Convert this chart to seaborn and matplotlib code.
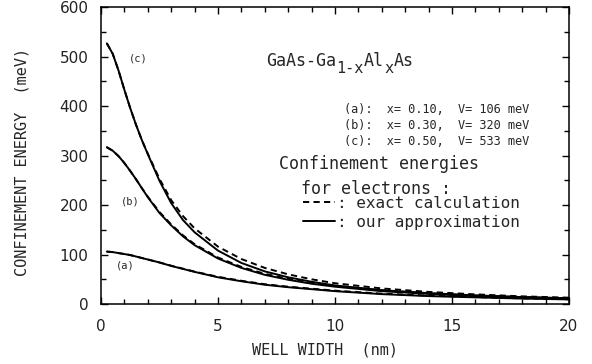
import numpy as np
import pandas as pd
import matplotlib
matplotlib.use("Agg")
import matplotlib.pyplot as plt
from matplotlib.lines import Line2D
from matplotlib.legend import Legend
from matplotlib.ticker import MultipleLocator
import seaborn as sns

# Well widths (nm) at which the confinement energies are tabulated
width_nm = [0.25, 0.5, 0.75, 1.0, 1.25, 1.5, 1.75, 2.0, 2.5, 3.0, 3.5, 4.0,
            5.0, 6.0, 7.0, 8.0, 9.0, 10.0, 12.0, 14.0, 16.0, 18.0, 20.0]

# Ground-state electron confinement energies (meV)
# (a) x = 0.10, V = 106 meV
a_approx = [106, 105, 103, 101, 99, 96, 93, 90, 84, 77, 71, 65,
            54, 46, 39, 34, 30, 26, 20, 16, 13.5, 11, 9.3]
a_exact = [106, 105, 103, 101, 99, 96, 93, 90, 84, 77.5, 71.5, 65.5,
           55, 47, 40, 35, 31, 27, 21, 17, 14, 11.5, 9.6]
# (b) x = 0.30, V = 320 meV
b_approx = [317, 310, 299, 285, 269, 252, 234, 216, 184, 159, 137, 119,
            92, 73, 59, 49, 41, 35, 26, 20.5, 16.3, 13.2, 10.9]
b_exact = [317, 310, 299, 285, 269, 252, 234, 217, 186, 161, 139, 121,
           94, 75, 61, 51, 43, 36.5, 27.5, 21.5, 17, 14, 11.5]
# (c) x = 0.50, V = 533 meV
c_approx = [527, 506, 472, 433, 396, 362, 331, 303, 249, 204, 170, 145,
            108, 83, 66, 54, 45, 37.5, 28, 22, 17.5, 14, 11.5]
c_exact = [527, 506, 472, 433, 396, 362, 331, 304, 253, 210, 178, 153,
           116, 91, 73, 60, 50, 42, 31.5, 24.5, 19.5, 15.5, 12.8]

curve_labels = ["(a)", "(b)", "(c)"]
label_pos = [(1.05, 77), (1.26, 207), (1.6, 497)]
param_lines = ["(a):  x= 0.10,  V= 106 meV",
               "(b):  x= 0.30,  V= 320 meV",
               "(c):  x= 0.50,  V= 533 meV"]
param_y = [394, 360, 328]
# system name, split into normal and lowered (subscript) pieces
title_parts = [("GaAs-Ga", False), ("1-x", True), ("Al", False),
               ("x", True), ("As", False)]

frames = []
for name, approx, exact in zip(curve_labels,
                               [a_approx, b_approx, c_approx],
                               [a_exact, b_exact, c_exact]):
    frames.append(pd.DataFrame({"width": width_nm, "energy": exact,
                                "curve": name, "method": "exact"}))
    frames.append(pd.DataFrame({"width": width_nm, "energy": approx,
                                "curve": name, "method": "approx"}))
df = pd.concat(frames, ignore_index=True)

sns.set_theme(style="ticks")
mono = ["DejaVu Sans Mono", "DejaVu Sans"]
plt.rcParams["font.family"] = mono
plt.rcParams["axes.linewidth"] = 1.1

fig = plt.figure(figsize=(5.92, 3.64), dpi=100)
ax = fig.add_axes([0.1706, 0.1648, 0.7905, 0.8152])

dash = (3.2, 2.2)
sns.lineplot(data=df, x="width", y="energy", units="curve",
             estimator=None, style="method",
             dashes={"exact": dash, "approx": ""},
             color="black", linewidth=1.4, legend=False, ax=ax, sort=True)

ax.set_xlim(0, 20)
ax.set_ylim(0, 600)
ax.xaxis.set_major_locator(MultipleLocator(5))
ax.xaxis.set_minor_locator(MultipleLocator(1))
ax.yaxis.set_major_locator(MultipleLocator(100))
ax.yaxis.set_minor_locator(MultipleLocator(50))
ax.tick_params(which="both", direction="in", top=True, right=True,
               color="black", width=1.0, labelsize=11, labelcolor="#222222")
ax.tick_params(which="major", length=5)
ax.tick_params(axis="x", which="major", pad=11)
ax.tick_params(axis="y", which="major", pad=9)
ax.tick_params(which="minor", length=3.5)
for lbl in ax.get_xticklabels() + ax.get_yticklabels():
    lbl.set_family("DejaVu Sans")
for s in ax.spines.values():
    s.set_color("black")

ax.set_xlabel("WELL WIDTH  (nm)", fontsize=11)
ax.set_ylabel("CONFINEMENT ENERGY  (meV)", fontsize=11)
ax.xaxis.set_label_coords(0.479, -0.130)
ax.yaxis.set_label_coords(-0.152, 0.479)

for lab, (lx, ly) in zip(curve_labels, label_pos):
    ax.text(lx, ly, lab, fontsize=7.5, ha="center", va="center")

# chemical formula, built piece by piece so the subscripts stay large
prev = ax.text(7.05, 474, title_parts[0][0], fontsize=12,
               ha="left", va="bottom")
prev_low = False
for txt, low in title_parts[1:]:
    if low and not prev_low:
        dy = -4.5
    elif prev_low and not low:
        dy = 4.5
    else:
        dy = 0
    prev = ax.annotate(txt, xy=(1.0, 0.0), xycoords=prev,
                       xytext=(0.3, dy), textcoords="offset points",
                       fontsize=11 if low else 12, ha="left", va="bottom")
    prev_low = low

for t, py in zip(param_lines, param_y):
    ax.text(18.29, py, t, fontsize=8.6, ha="right", va="center")

ax.text(7.6, 283, "Confinement energies", fontsize=12, ha="left",
        va="center")
ax.text(8.55, 233, "for electrons :", fontsize=12, ha="left",
        va="center")

key_rows = [(Line2D([], [], color="black", lw=1.4, dashes=dash),
             ": exact calculation", 0.3387),
            (Line2D([], [], color="black", lw=1.4),
             ": our approximation", 0.2747)]
for handle, text, ypos in key_rows:
    leg = Legend(ax, [handle], [text], loc="center left",
                 bbox_to_anchor=(0.4316, ypos), frameon=False,
                 fontsize=11.5, handlelength=2.0, handletextpad=0.1,
                 borderpad=0.0, borderaxespad=0.0)
    ax.add_artist(leg)

fig.savefig("out.png", dpi=100)
